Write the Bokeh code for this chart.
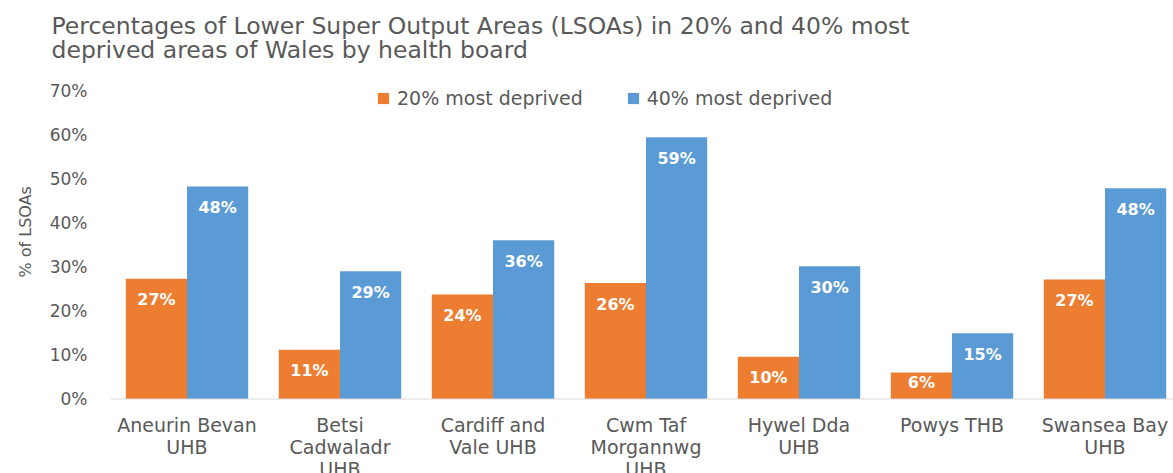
import math
from bokeh.plotting import figure
from bokeh.models import (ColumnDataSource, Legend, LegendItem, Span, Title,
                          FixedTicker, PrintfTickFormatter, Range1d)
from bokeh.core.properties import value
from bokeh.embed import file_html
from bokeh.resources import INLINE

# ---- data ----
categories = ["Aneurin Bevan\nUHB", "Betsi\nCadwaladr\nUHB", "Cardiff and\nVale UHB",
              "Cwm Taf\nMorgannwg\nUHB", "Hywel Dda\nUHB", "Powys THB", "Swansea Bay\nUHB"]
most_deprived_20 = [27.3, 11.2, 23.7, 26.3, 9.6, 6.0, 27.1]
most_deprived_40 = [48.2, 29.0, 36.0, 59.4, 30.1, 14.9, 47.8]
y_ticks = [0, 10, 20, 30, 40, 50, 60, 70]
series_names = ["20% most deprived", "40% most deprived"]
title_text = ("Percentages of Lower Super Output Areas (LSOAs) in 20% and 40% most\n"
              "deprived areas of Wales by health board")
y_title = "% of LSOAs"

ORANGE = "#ed7d31"
BLUE = "#5b9bd5"
GREY = "#595959"
FONT = "DejaVu Sans"

W, H = 1173, 473
FRAME_LEFT, FRAME_TOP = 110, 70
Y_MIN, Y_MAX = -16.9, 74.54
PX_PER_UNIT = (H - FRAME_TOP) / (Y_MAX - Y_MIN)


def label_offset(v):
    # value label sits just inside the bar end; short bars push it upwards
    return min(21, v * PX_PER_UNIT - 17)


xc = [i + 0.5 for i in range(len(categories))]
src = ColumnDataSource(dict(
    xc=xc,
    x20=[x - 0.2 for x in xc],
    x40=[x + 0.2 for x in xc],
    v20=most_deprived_20,
    v40=most_deprived_40,
    l20=[f"{round(v)}%" for v in most_deprived_20],
    l40=[f"{round(v)}%" for v in most_deprived_40],
    o20=[label_offset(v) for v in most_deprived_20],
    o40=[label_offset(v) for v in most_deprived_40],
    cat=categories,
    zero=[0] * len(categories),
))

p = figure(width=W, height=H,
           x_range=Range1d(0, (W - FRAME_LEFT) / 153.0), y_range=Range1d(Y_MIN, Y_MAX),
           output_backend="svg", toolbar_location=None, title=None,
           x_axis_location=None,
           min_border_left=FRAME_LEFT, min_border_right=0, min_border_top=FRAME_TOP,
           min_border_bottom=0)
p.outline_line_color = None
p.grid.visible = False
p.background_fill_color = "white"
p.border_fill_color = "white"

r20 = p.vbar(x="x20", top="v20", bottom=0, width=0.4, source=src,
             fill_color=ORANGE, line_color=None)
r40 = p.vbar(x="x40", top="v40", bottom=0, width=0.4, source=src,
             fill_color=BLUE, line_color=None)

p.add_layout(Span(location=0, dimension="width", line_color="#d9d9d9", line_width=1))

for xs, ys, ls, os_ in (("x20", "v20", "l20", "o20"), ("x40", "v40", "l40", "o40")):
    p.text(x=xs, y=ys, text=ls, source=src, text_color="white",
           text_font=value(FONT), text_font_style="bold", text_font_size="16px",
           text_align="center", text_baseline="middle", y_offset=os_)

p.text(x="xc", y="zero", text="cat", source=src, text_color=GREY,
       text_font=value(FONT), text_font_size="19px", text_align="center",
       text_baseline="top", y_offset=15, text_line_height=1.0)

ax = p.yaxis[0]
ax.ticker = FixedTicker(ticks=y_ticks)
ax.formatter = PrintfTickFormatter(format="%d%%")
ax.axis_line_color = None
ax.major_tick_line_color = None
ax.minor_tick_line_color = None
ax.major_tick_out = 0
ax.major_tick_in = 0
ax.major_label_standoff = 23
ax.major_label_text_font = FONT
ax.major_label_text_font_size = "17px"
ax.major_label_text_color = GREY

p.add_layout(Title(text=title_text, align="left", offset=-59, standoff=12,
                   text_font=FONT, text_font_size="23.5px", text_font_style="normal",
                   text_color=GREY, text_line_height=0.86), "above")
p.add_layout(Title(text=y_title, align="left", offset=196, standoff=24,
                   text_font=FONT, text_font_size="16px", text_font_style="normal",
                   text_color=GREY), "left")

# legend swatches (hidden square markers on the series data)
lg20 = p.scatter(x="x20", y="v20", source=src, marker="square", size=10,
                 fill_color=ORANGE, line_color=None, visible=False)
lg40 = p.scatter(x="x40", y="v40", source=src, marker="square", size=10,
                 fill_color=BLUE, line_color=None, visible=False)
legend = Legend(items=[LegendItem(label=series_names[0], renderers=[lg20]),
                       LegendItem(label=series_names[1], renderers=[lg40])],
                location=(259, 361.5), orientation="horizontal",
                glyph_width=28, glyph_height=28, label_standoff=0, spacing=36,
                padding=0, margin=0, border_line_color=None, background_fill_alpha=0,
                inactive_fill_alpha=0,
                label_text_font=FONT, label_text_font_size="19px", label_text_color=GREY)
p.add_layout(legend)

open("out.html", "w").write(file_html(p, INLINE))
